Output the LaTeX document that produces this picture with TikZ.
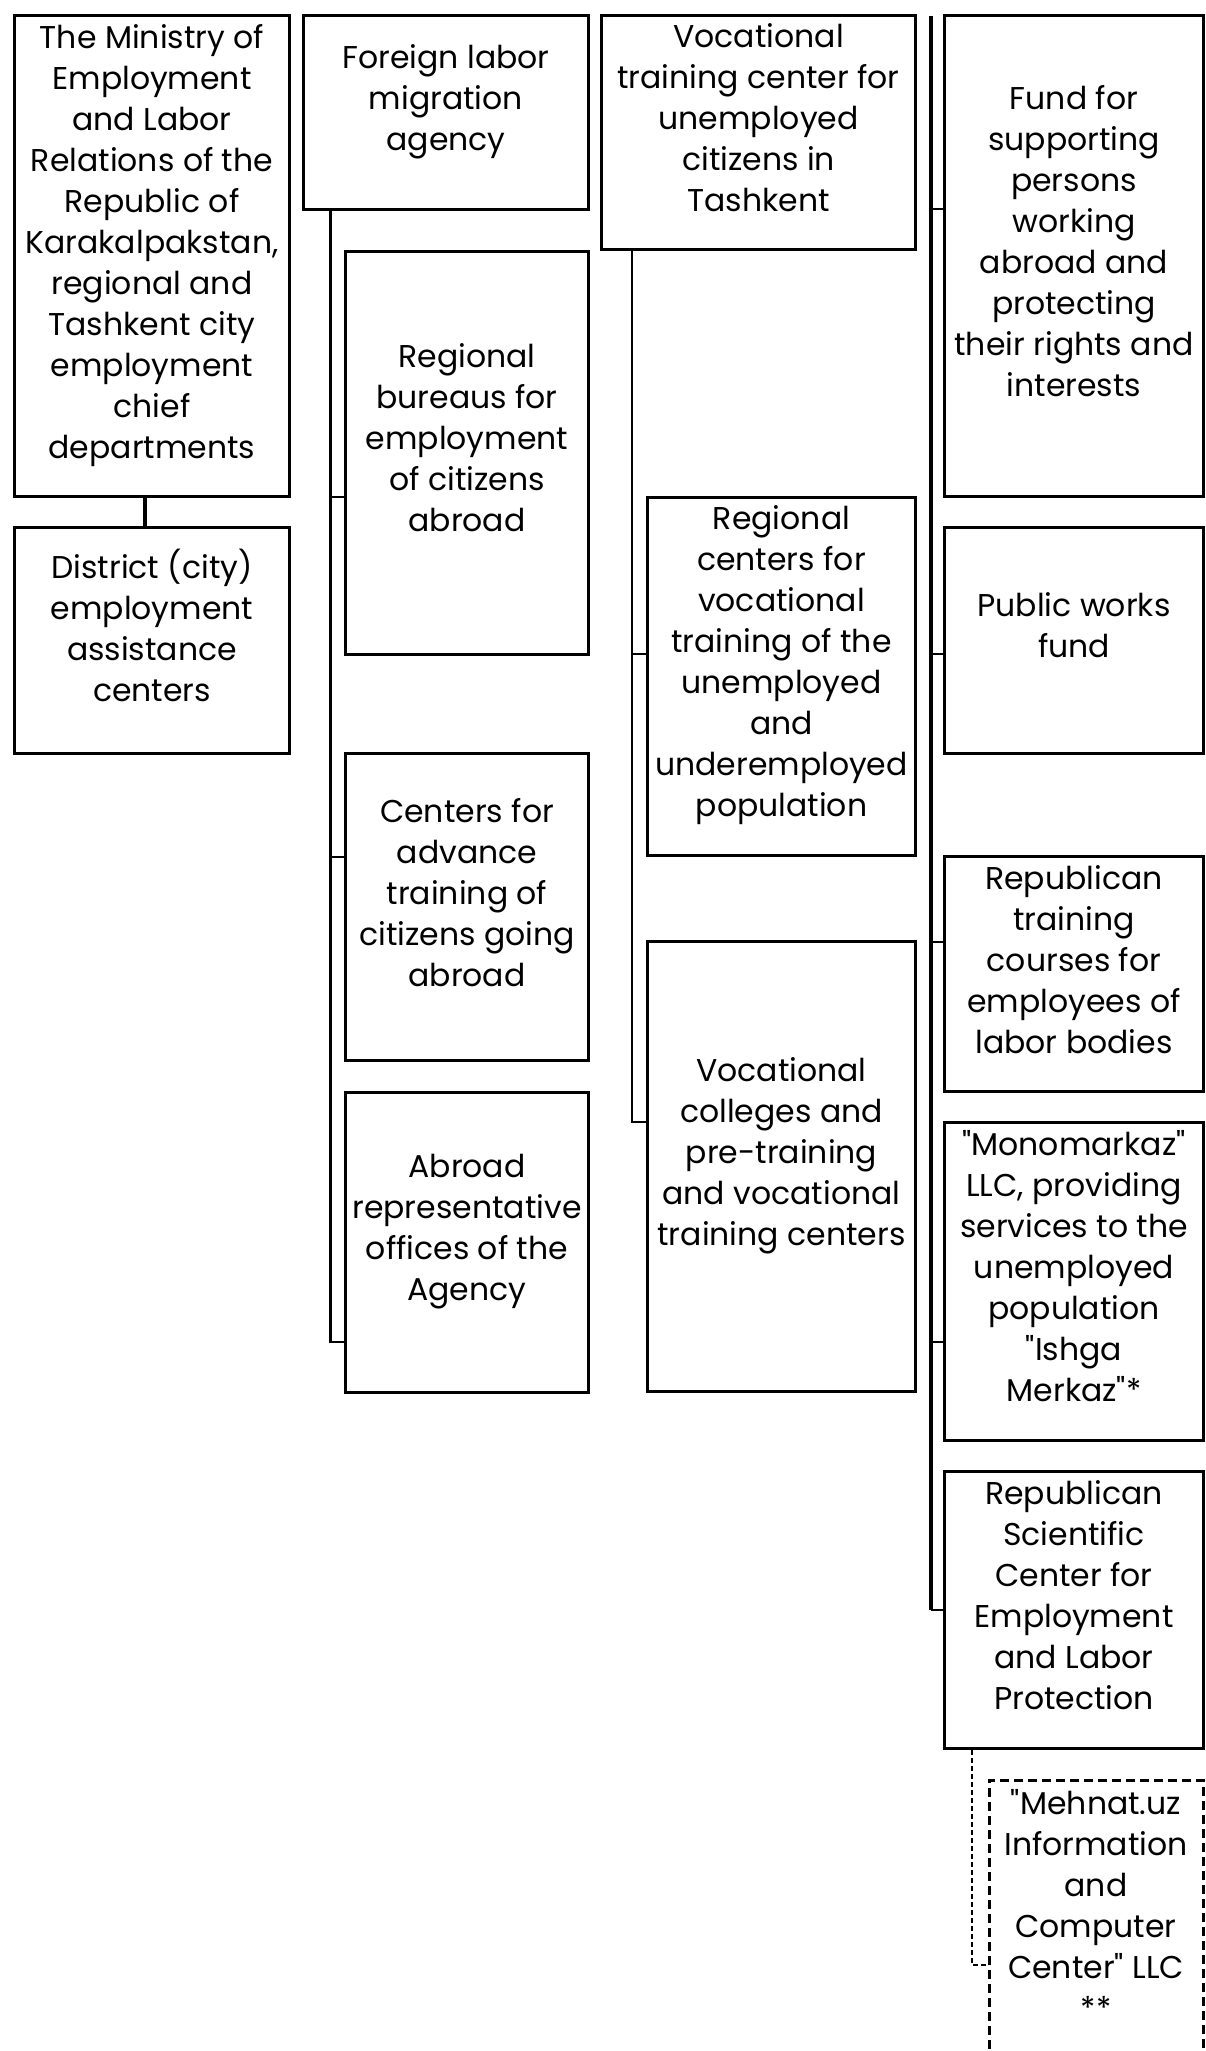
\documentclass[tikz,border=0pt]{standalone}
\usepackage{fontspec}
\setmainfont{Poppins}[Ligatures=TeXOff]
\begin{document}
\begin{tikzpicture}[x=1pt,y=-1pt,
  unit/.style={draw, line width=3pt, align=center, inner sep=0pt,
    font=\fontsize{31.5}{41}\selectfont,
    execute at end node={\rule[-30pt]{0pt}{1pt}}},
  branch/.style={line width=2.2pt},
  spine/.style={line width=4.4pt},
  dashlink/.style={line width=1.5pt, dash pattern=on 5pt off 3pt}]
\useasboundingbox (0,0) rectangle (1206,2051);

% left column
\node(ministry)[unit, minimum width=275pt, minimum height=481pt] at (152,256)
  {The Ministry of\\Employment\\and Labor\\Relations of the\\Republic of\\Karakalpakstan,\\regional and\\Tashkent city\\employment\\chief\\departments};
\node(district)[unit, minimum width=275pt, minimum height=226pt] at (152,640)
  {District (city)\\employment\\assistance\\centers};

% agency column
\node(agency)[unit, minimum width=285pt, minimum height=194pt] at (446,112.5)
  {Foreign labor\\migration\\agency};
\node(bureaus)[unit, minimum width=243pt, minimum height=403pt] at (467,452.5)
  {Regional\\bureaus for\\employment\\of citizens\\abroad};
\node(advance)[unit, minimum width=243pt, minimum height=307pt] at (467,907)
  {Centers for\\advance\\training of\\citizens going\\abroad};
\node(offices)[unit, minimum width=243pt, minimum height=300pt] at (467,1242)
  {Abroad\\representative\\offices of the\\Agency};

% vocational column
\node(tashkent)[unit, minimum width=314pt, minimum height=234pt] at (758.6,132.8)
  {Vocational\\training center for\\unemployed\\citizens in\\Tashkent};
\node(regcenters)[unit, minimum width=268pt, minimum height=358pt] at (781.5,676)
  {Regional\\centers for\\vocational\\training of the\\unemployed\\and\\underemployed\\population};
\node(colleges)[unit, minimum width=268pt, minimum height=450pt] at (781.5,1166.7)
  {Vocational\\colleges and\\pre-training\\and vocational\\training centers};

% right column
\node(fund)[unit, minimum width=259pt, minimum height=481pt] at (1074,256)
  {Fund for\\supporting\\persons\\working\\abroad and\\protecting\\their rights and\\interests};
\node(works)[unit, minimum width=259pt, minimum height=226pt] at (1074,640)
  {Public works\\fund};
\node(courses)[unit, minimum width=259pt, minimum height=235pt] at (1074,974)
  {Republican\\training\\courses for\\employees of\\labor bodies};
\node(monomarkaz)[unit, minimum width=259pt, minimum height=318pt] at (1074,1281)
  {"Monomarkaz"\\LLC, providing\\services to the\\unemployed\\population\\"Ishga\\Merkaz"*};
\node(science)[unit, minimum width=259pt, minimum height=277pt] at (1074,1610)
  {Republican\\Scientific\\Center for\\Employment\\and Labor\\Protection};
\node(mehnat)[unit, dash pattern=on 9pt off 5pt, minimum width=214pt, minimum height=278pt] at (1096,1919)
  {"Mehnat.uz\\Information\\and\\Computer\\Center" LLC\\**};

% links
\draw[spine] ([xshift=-7pt]ministry.south) -- ([xshift=-7pt]district.north);

\coordinate(fa) at ([xshift=28.5pt]agency.south west);
\draw[branch] (fa) |- (offices.west |- 0,1342);
\draw[branch] (fa |- 0,497) -- (bureaus.west |- 0,497);
\draw[branch] (fa |- 0,857) -- (advance.west |- 0,857);

\coordinate(vt) at ([xshift=32pt]tashkent.south west);
\draw[branch] (vt) |- (colleges.west |- 0,1122);
\draw[branch] (vt |- 0,654) -- (regcenters.west |- 0,654);

\coordinate(rs) at (931,15.7);
\draw[spine] (rs) -- (rs |- science.west);
\draw[branch] (rs |- 0,209) -- (fund.west |- 0,209);
\draw[branch] (rs |- 0,654) -- (works.west |- 0,654);
\draw[branch] (rs |- 0,942) -- (courses.west |- 0,942);
\draw[branch] (rs |- 0,1342) -- (monomarkaz.west |- 0,1342);
\draw[branch] (rs |- science.west) -- (science.west);

\draw[dashlink] ([xshift=29pt]science.south west) |- (mehnat.west |- 0,1965);
\end{tikzpicture}
\end{document}
